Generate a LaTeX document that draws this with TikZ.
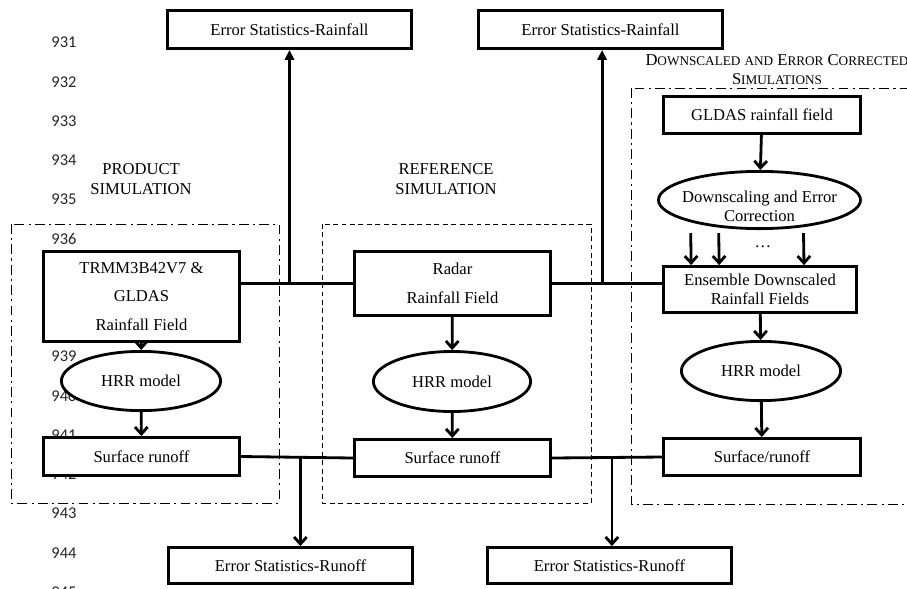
\documentclass[tikz,border=0pt]{standalone}
\usepackage{fontspec}
\setmainfont{Liberation Serif}
\newfontfamily\numfont{Carlito}
\usetikzlibrary{arrows.meta,shapes.geometric,positioning,calc}
\newcommand{\fakesc}[2]{#1{\fontsize{9.4}{11}\selectfont #2}}

\begin{document}
\begin{tikzpicture}[x=0.025cm,y=-0.025cm,
  font=\fontsize{11.8}{14}\selectfont,
  box/.style={draw,line width=2pt,fill=white,align=center,minimum width=4.9cm,minimum height=0.93cm},
  oval/.style={draw,ellipse,line width=2pt,fill=white,align=center,minimum width=3.98cm,minimum height=1.48cm},
  lnum/.style={font=\numfont\fontsize{11.7}{14}\selectfont,text=black!85},
  link/.style={line width=2pt},
  up/.style={line width=2pt,-{Triangle[length=7pt,width=6.5pt]}},
  down/.style={line width=2pt,-{Straight Barb[length=5pt,width=9pt]}},
  grp/.style={line width=0.7pt,dash pattern=on 7pt off 3pt on 1.5pt off 3pt},
  grpd/.style={line width=0.7pt,dash pattern=on 3.5pt off 2.5pt}]

\useasboundingbox (0,0) rectangle (907,588);

% line numbers of the page
\foreach \n [count=\i from 0] in {931,...,945}
  \node[lnum] at (64,42.7+39.25*\i) {\n};

% frames of the three simulations
\draw[grp] (11,224) rectangle (279,503);
\draw[grpd] (322,224) rectangle (591,503);
\draw[grp] (631,88) rectangle (915,504);

\node[align=center] (prodtitle) at (141,179) {PRODUCT\\SIMULATION};
\node[align=center] (reftitle) at (446,179) {REFERENCE\\SIMULATION};
\node[align=center,font=\fontsize{11.8}{13.5}\selectfont] (dectitle) at (777,70)
  {\fakesc{D}{OWNSCALED} {\fontsize{9.4}{11}\selectfont AND} \fakesc{E}{RROR} \fakesc{C}{ORRECTED}\\\fakesc{S}{IMULATIONS}};

% error statistics
\node[box,minimum width=6.1cm,minimum height=0.95cm] (esrl) at (289.5,29.5) {Error Statistics-Rainfall};
\node[box,minimum width=6.1cm,minimum height=0.95cm] (esrr) at (600.5,29.5) {Error Statistics-Rainfall};
\node[box,minimum width=6.1cm,minimum height=0.9cm] (esol) at (290.5,565.5) {Error Statistics-Runoff};
\node[box,minimum width=6.1cm,minimum height=0.9cm] (esor) at (609.5,565.5) {Error Statistics-Runoff};

% product simulation
\node[box,minimum height=2.25cm,font=\fontsize{11.8}{20.3}\selectfont] (trmm) at (141.5,296.5) {TRMM3B42V7 \&\\GLDAS\\Rainfall Field};
\node[oval] (hrrl) at (141,381) {HRR model};
\node[box,minimum height=0.95cm] (runl) at (141.5,456.5) {Surface runoff};

% reference simulation
\node[box,minimum height=1.6cm,font=\fontsize{11.8}{20.6}\selectfont] (radar) at (452.5,283.5) {Radar\\Rainfall Field};
\node[oval,minimum width=3.93cm,minimum height=1.5cm] (hrrm) at (452,381.5) {HRR model};
\node[box] (runm) at (452.5,458) {Surface runoff};

% downscaled and error corrected simulations
\node[box,minimum width=4.93cm] (gldas) at (762,115) {GLDAS rainfall field};
\node[oval,minimum width=5.05cm,minimum height=1.43cm] (dsec) at (759.5,200) {};
\node[align=center,font=\fontsize{11.8}{13.5}\selectfont] (dsectext) at (759.5,206) {Downscaling and Error\\Correction};
\node (dots) at (763,247) {\dots};
\node[box,minimum width=4.83cm,minimum height=1.15cm,font=\fontsize{11.8}{13.5}\selectfont] (ens) at (760,289.5) {Ensemble Downscaled\\Rainfall Fields};
\node[oval] (hrrr) at (761,371) {HRR model};
\node[box,minimum width=4.93cm] (runr) at (762,457) {Surface/runoff};

% arrows inside the frames
\draw[down] (trmm) -- (hrrl);
\draw[down] (hrrl) -- (runl);
\draw[down] (radar) -- (hrrm);
\draw[down] (hrrm) -- (runm);
\draw[down] (gldas) -- (dsec);
\foreach \dx in {-1.72,-1.02,1.1}
  \draw[down] ([xshift=\dx cm,yshift=-0.08cm]dsec.south) -- ([xshift=\dx cm]ens.north);
\draw[down] (ens) -- (hrrr);
\draw[down] (hrrr) -- (runr);

% rainfall comparison
\draw[link] (radar.west) -- (radar.west -| trmm.east);
\coordinate (jrl) at (esrl.south |- radar.west);
\draw[up] (jrl) -- (esrl.south);
\draw[link] (radar.east) -- (radar.east -| ens.west);
\coordinate (jrr) at ([xshift=0.04cm]esrr.south |- radar.east);
\draw[up] (jrr) -- (jrr |- esrr.south);

% runoff comparison
\draw[link] (runl.east) -- coordinate[pos=0.53] (jol) (runm.west);
\draw[down] (jol) -- (jol |- esol.north);
\draw[link] (runm.east) -- coordinate[pos=0.545] (jor) (runr.west);
\draw[down] (jor) -- (jor |- esor.north);
\end{tikzpicture}
\end{document}
